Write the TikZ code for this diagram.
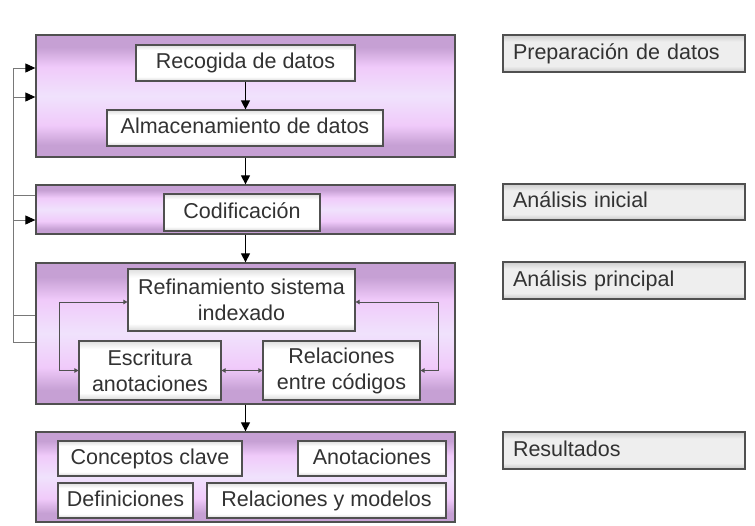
\documentclass[tikz,border=0pt]{standalone}
\usepackage{fontspec}
\setmainfont{Liberation Sans}
\usetikzlibrary{arrows.meta}
\definecolor{purpD}{RGB}{198,160,212}
\definecolor{purpM}{RGB}{240,202,250}
\definecolor{purpC}{RGB}{240,226,252}
\definecolor{frameC}{RGB}{80,80,80}
\definecolor{txtC}{RGB}{50,50,50}
\definecolor{fbC}{RGB}{120,120,120}
\definecolor{inT}{RGB}{222,222,222}
\definecolor{inB}{RGB}{215,215,215}
\definecolor{labT}{RGB}{205,205,205}
\definecolor{labM}{RGB}{238,238,238}
\definecolor{labB}{RGB}{200,200,200}
\pgfdeclareverticalshading{stageshade}{100bp}{color(0bp)=(purpD); color(25bp)=(purpD); color(30bp)=(purpD); color(38bp)=(purpM); color(50bp)=(purpC); color(62bp)=(purpM); color(70bp)=(purpD); color(75bp)=(purpD); color(100bp)=(purpD)}
\pgfdeclareverticalshading{innershade}{100bp}{color(0bp)=(inB); color(25bp)=(inB); color(31bp)=(white); color(68bp)=(white); color(75bp)=(inT); color(100bp)=(inT)}
\pgfdeclareverticalshading{labshade}{100bp}{color(0bp)=(labB); color(25bp)=(labB); color(33bp)=(labM); color(66bp)=(labM); color(75bp)=(labT); color(100bp)=(labT)}
\begin{document}
\begin{tikzpicture}[x=1pt,y=-1pt,
  stage/.style={draw=frameC,line width=1.3pt,rectangle,inner sep=0pt,shading=stageshade},
  inbox/.style={draw=frameC,line width=1.2pt,rectangle,inner sep=0pt,shading=innershade,
    text=txtC,font=\fontsize{21.5}{26}\selectfont,align=center},
  lab/.style={draw=frameC,line width=1.2pt,rectangle,inner sep=0pt,inner xsep=10pt,shading=labshade,
    text=txtC,font=\fontsize{21.5}{26}\selectfont,text width=222pt,align=left},
  mainarrow/.style={draw=black,line width=1.2pt,-{Triangle[length=9pt,width=9pt]}},
  fbarrow/.style={draw=fbC,line width=1pt,-{Triangle[length=10pt,width=9pt,fill=black,color=black]}},
  smallarrow/.style={draw=frameC,line width=1pt,{Triangle[length=4pt,width=4.5pt]}-{Triangle[length=4pt,width=4.5pt]}},
  one/.style={text height=15.5pt,text depth=4.5pt}
]
\useasboundingbox (0,0) rectangle (755,525);

% stages
\node[stage,minimum width=419pt,minimum height=122pt] (box1) at (245.5,96) {};
\node[stage,minimum width=419pt,minimum height=49pt] (box2) at (245.5,209.5) {};
\node[stage,minimum width=419pt,minimum height=141pt] (box3) at (245.5,333.5) {};
\node[stage,minimum width=419pt,minimum height=90pt] (box4) at (245.5,477) {};

% inner boxes
\node[inbox,one,minimum width=219pt,minimum height=36pt] (rec) at (245.5,63) {Recogida de datos};
\node[inbox,one,minimum width=276pt,minimum height=36pt] (alm) at (245,128) {Almacenamiento de datos};
\node[inbox,one,minimum width=156pt,minimum height=37pt] (cod) at (242,212.5) {Codificación};
\node[inbox,minimum width=227pt,minimum height=62pt] (ref) at (241.5,300) {Refinamiento sistema\\indexado};
\node[inbox,minimum width=142pt,minimum height=59pt] (esc) at (150,370.5) {Escritura\\anotaciones};
\node[inbox,minimum width=157pt,minimum height=59pt] (rel) at (341.5,370.5) {Relaciones\\entre códigos};
\node[inbox,one,minimum width=184pt,minimum height=35pt] (con) at (150,458.5) {Conceptos clave};
\node[inbox,one,minimum width=148pt,minimum height=35pt] (ano) at (372,458.5) {Anotaciones};
\node[inbox,one,minimum width=135pt,minimum height=35pt] (dfn) at (125.5,500.5) {Definiciones};
\node[inbox,one,minimum width=239pt,minimum height=35pt] (rym) at (326.5,500.5) {Relaciones y modelos};

% right labels
\node[lab,one,minimum height=37pt] (lab1) at (624,53.5) {Preparación de datos};
\node[lab,one,minimum height=36pt] (lab2) at (624,202) {Análisis inicial};
\node[lab,one,minimum height=37pt] (lab3) at (624,280.5) {Análisis principal};
\node[lab,one,minimum height=37pt] (lab4) at (624,450.5) {Resultados};

% main arrows
\draw[mainarrow] (rec.south) -- (rec.south |- alm.north);
\draw[mainarrow] (box1.south -| rec.south) -- (box2.north -| rec.south);
\draw[mainarrow] (box2.south -| rec.south) -- (box3.north -| rec.south);
\draw[mainarrow] (box3.south -| rec.south) -- (box4.north -| rec.south);

% feedback lines
\draw[fbarrow] ([yshift=-8.5pt]box3.west) -- ++(-22,0) |- ([yshift=28pt]box1.west);
\draw[fbarrow] ([yshift=14.5pt]box2.west) -- ++(-22,0) |- ([yshift=-1pt]box1.west);
\draw[fbarrow] ([yshift=18.5pt]box3.west) -- ++(-22,0) |- ([yshift=-10.5pt]box2.west);

% inner loops
\draw[smallarrow] (esc.west) -- ++(-19,0) |- ([yshift=-2pt]ref.west);
\draw[smallarrow] (rel.east) -- ++(18,0) |- ([yshift=-2pt]ref.east);
\draw[smallarrow] (esc.east) -- (rel.west);
\end{tikzpicture}
\end{document}
